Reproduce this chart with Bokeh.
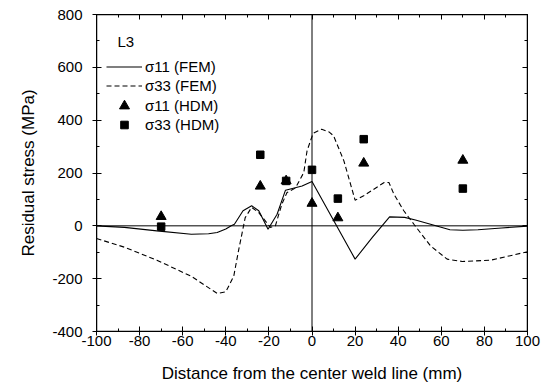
from bokeh.plotting import figure
from bokeh.models import (Range1d, LinearAxis, SingleIntervalTicker, Span,
                          Legend, LegendItem, Label, CustomJSTickFormatter,
                          CustomLabelingPolicy)
from bokeh.embed import file_html
from bokeh.resources import INLINE

FONT = "Liberation Sans"

# axis limits
x_min, x_max = -100, 100
y_min, y_max = -400, 800

# sigma11 FEM (solid)
fem11_x = [-100, -87, -72, -56, -48, -44, -40, -37.5, -36, -32, -28, -24.7, -20.4,
           -16.2, -12.3, -4.6, 0, 20, 28, 36, 43, 48, 55, 64, 70, 77, 88, 100]
fem11_y = [0, -6, -19, -32, -30, -25, -12, 0, 6, 57, 76, 57, -13,
           44, 135, 151, 168, -126, -44, 34, 32, 22, 6, -15, -17, -15, -8, -1]

# sigma33 FEM (dashed)
fem33_x = [-100, -87, -72, -56, -44, -40, -36.3, -34, -33, -31, -28, -24.7, -19.3,
           -17, -14, -11.6, -7.7, -3.8, -2.3, 0.5, 4.5, 8, 10, 14.8, 20, 24,
           33.5, 35.7, 38, 42.6, 47.3, 55, 62.7, 69.7, 83, 100]
fem33_y = [-48, -81, -130, -191, -256, -250, -190, -90, -50, 31, 70, 50, -6,
           0, 82, 126, 143, 202, 284, 350, 366, 355, 341, 246, 97, 114,
           164, 164, 120, 57, 6, -76, -126, -135, -130, -98]

# HDM measurements
hdm_x = [-70, -24, -12, 0, 12, 24, 70]
hdm11 = [35, 150, 170, 85, 30, 237, 248]
hdm33 = [-3, 269, 170, 212, 103, 328, 141]

x_ticks_interval = 20
y_ticks_interval = 200

p = figure(width=547, height=391,
           x_range=Range1d(x_min, x_max), y_range=Range1d(y_min, y_max),
           output_backend="svg", toolbar_location=None,
           min_border_left=96, min_border_right=20,
           min_border_top=14, min_border_bottom=60)
p.grid.visible = False
p.outline_line_color = "black"
p.outline_line_width = 1


def xtick():
    return SingleIntervalTicker(interval=x_ticks_interval, num_minor_ticks=2)


def ytick():
    return SingleIntervalTicker(interval=y_ticks_interval, num_minor_ticks=2)


def style_lines(ax):
    ax.axis_line_color = "black"
    ax.axis_line_width = 1
    ax.major_tick_line_color = "black"
    ax.minor_tick_line_color = "black"
    ax.major_tick_line_width = 1
    ax.minor_tick_line_width = 1
    ax.major_tick_in = 5
    ax.minor_tick_in = 3
    ax.minor_tick_out = 0


xa = p.xaxis[0]
ya = p.yaxis[0]
xa.ticker = xtick()
ya.ticker = ytick()
xa.formatter = CustomJSTickFormatter(code="return tick.toFixed(0)")
ya.formatter = CustomJSTickFormatter(code="return tick.toFixed(0)")
xa.axis_label = "Distance from the center weld line (mm)"
ya.axis_label = "Residual stress (MPa)"
for ax in (xa, ya):
    style_lines(ax)
    ax.major_tick_out = 4
    ax.major_label_text_font = FONT
    ax.major_label_text_font_size = "15px"
    ax.major_label_text_color = "black"
    ax.axis_label_text_font = FONT
    ax.axis_label_text_font_size = "17px"
    ax.axis_label_text_font_style = "normal"
    ax.axis_label_text_color = "black"
xa.major_label_standoff = 0
xa.axis_label_standoff = 15
ya.major_label_standoff = 10
ya.axis_label_standoff = 11

for loc, tk in (("above", xtick()), ("right", ytick())):
    ax = LinearAxis(ticker=tk,
                    formatter=CustomJSTickFormatter(code="return tick.toFixed(0)"),
                    major_label_policy=CustomLabelingPolicy(code="""
const all = Array.from(indices)
for (const i of all) indices.unset(i)
return indices
"""))
    style_lines(ax)
    ax.major_tick_out = 0
    ax.major_label_standoff = 0
    ax.major_label_text_font_size = "1px"
    p.add_layout(ax, loc)

# frame box along the axis limits
for loc in (x_min, x_max):
    p.add_layout(Span(location=loc, dimension="height", line_color="black", line_width=1.5))
for loc in (y_min, y_max):
    p.add_layout(Span(location=loc, dimension="width", line_color="black", line_width=1.5))

# zero lines
p.add_layout(Span(location=0, dimension="width", line_color="black", line_width=1))
p.add_layout(Span(location=0, dimension="height", line_color="black", line_width=1))

r1 = p.line(fem11_x, fem11_y, line_color="black", line_width=1.1)
r2 = p.line(fem33_x, fem33_y, line_color="black", line_width=1.1, line_dash="5 3")
r3 = p.scatter(hdm_x, hdm11, marker="triangle", size=10, color="black")
r4 = p.scatter(hdm_x, hdm33, marker="square", size=7.5, color="black")


def make_legend(label, rend, h, y):
    lg = Legend(items=[LegendItem(label=label, renderers=[rend])], location=(10, y))
    lg.label_text_font = FONT
    lg.label_text_font_size = "15px"
    lg.label_text_color = "black"
    lg.glyph_width = 36
    lg.glyph_height = h
    lg.label_height = h
    lg.label_standoff = 3
    lg.padding = 0
    lg.margin = 0
    lg.border_line_color = None
    lg.background_fill_alpha = 0
    return lg


p.add_layout(make_legend("σ11 (FEM)", r1, 17, 256))
p.add_layout(make_legend("σ33 (FEM)", r2, 17, 237))
p.add_layout(make_legend("σ11 (HDM)", r3, 25, 213))
p.add_layout(make_legend("σ33 (HDM)", r4, 19, 197))

p.add_layout(Label(x=-90.3, y=698, text="L3",
                   text_font=FONT, text_font_size="15px", text_baseline="middle",
                   text_color="black"))

open("out.html", "w").write(file_html(p, INLINE))
